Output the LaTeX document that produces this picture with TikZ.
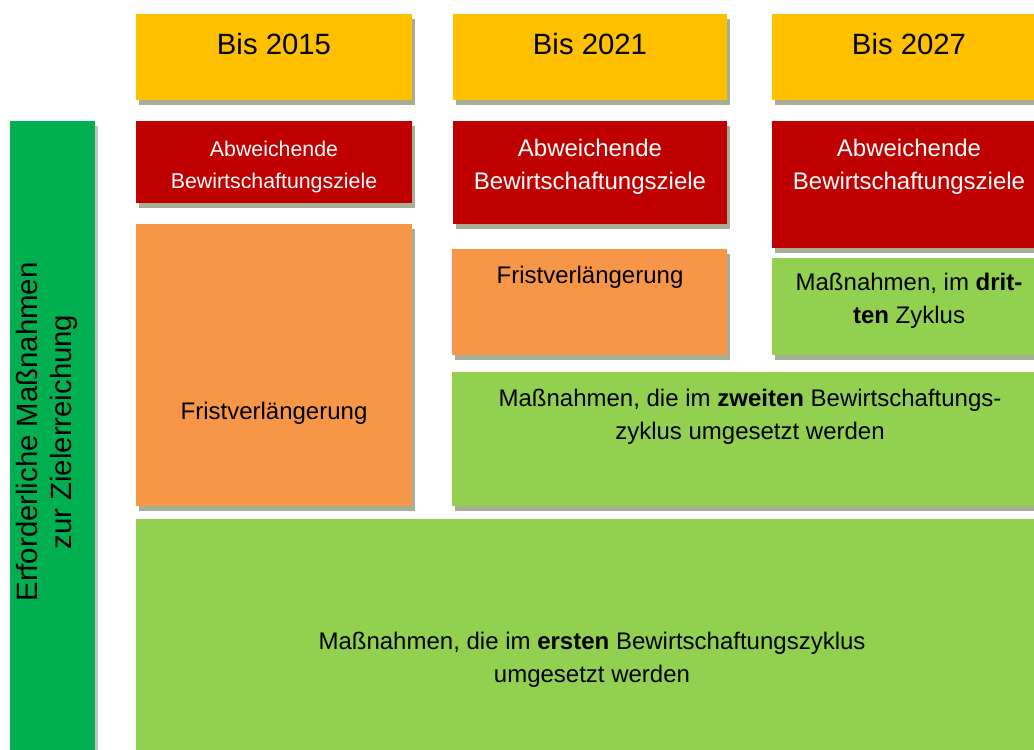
\documentclass[tikz,border=0pt]{standalone}
\usepackage{fontspec}
\setmainfont{Liberation Sans}
\usetikzlibrary{fit,shadows}
\definecolor{PlanYellow}{HTML}{FFC000}
\definecolor{PlanRed}{HTML}{C00000}
\definecolor{PlanOrange}{HTML}{F79646}
\definecolor{PlanLightGreen}{HTML}{92D050}
\definecolor{PlanGreen}{HTML}{00B050}
\definecolor{PlanShadow}{HTML}{A6AE95}
\definecolor{PlanLightShadow}{HTML}{C4C6BC}
\tikzset{
  castshadow/.style={
    drop shadow={shadow xshift=2.6pt,shadow yshift=-4.1pt,fill=#1,opacity=1}
  },
  castshadow/.default=PlanShadow,
  tile/.style={
    inner sep=0pt,
    outer sep=0pt,
    draw=none,
    castshadow
  },
  yeartile/.style={tile,fill=PlanYellow},
  goaltile/.style={tile,fill=PlanRed},
  delaytile/.style={tile,fill=PlanOrange},
  measuretile/.style={tile,fill=PlanLightGreen},
  sidetile/.style={inner sep=0pt,outer sep=0pt,fill=PlanGreen,castshadow=PlanLightShadow},
  tiletext/.style={
    align=center,
    inner sep=0pt,
    font=\fontsize{18}{24.5}\selectfont
  },
  yeartext/.style={tiletext,font=\fontsize{22}{26}\selectfont},
  goaltext/.style={tiletext,text=white},
  smallgoaltext/.style={goaltext,font=\fontsize{16}{24.5}\selectfont}
}

\begin{document}
\begin{tikzpicture}[x=0.75pt,y=0.75pt]
  \clip (0,0) rectangle (1034,-749);
  \fill[white] (0,0) rectangle (1034,-749);

  % side bar
  \node[sidetile,fit={(10,-121) (95,-770)}] (side) {};
  \node[rotate=90,align=center,inner sep=0pt,font=\fontsize{22}{25.5}\selectfont] (sidetext) at (47,-432)
    {Erforderliche Maßnahmen\\zur Zielerreichung};

  % years
  \node[yeartile,fit={(136,-14) (412,-100)}] (y15) {};
  \node[yeartile,fit={(453,-14) (727,-100)}] (y21) {};
  \node[yeartile,fit={(772,-14) (1047,-100)}] (y27) {};
  \node[yeartext] (y15text) at (274,-44) {Bis 2015};
  \node[yeartext] (y21text) at (590,-44) {Bis 2021};
  \node[yeartext] (y27text) at (909,-44) {Bis 2027};

  % deviating goals
  \node[goaltile,fit={(136,-121) (412,-203)}] (g15) {};
  \node[goaltile,fit={(453,-121) (727,-224)}] (g21) {};
  \node[goaltile,fit={(772,-121) (1047,-248)}] (g27) {};
  \node[smallgoaltext] (g15text) at (274,-167) {Abweichende\\Bewirtschaftungsziele};
  \node[goaltext] (g21text) at (590,-167) {Abweichende\\Bewirtschaftungsziele};
  \node[goaltext] (g27text) at (909,-167) {Abweichende\\Bewirtschaftungsziele};

  % extensions
  \node[delaytile,fit={(136,-224) (412,-506)}] (d15) {};
  \node[delaytile,fit={(452,-249) (727,-355)}] (d21) {};
  \node[tiletext] (d15text) at (274,-413) {Fristverlängerung};
  \node[tiletext] (d21text) at (590,-277) {Fristverlängerung};

  % measures
  \node[measuretile,fit={(772,-258) (1047,-355)}] (m27) {};
  \node[measuretile,fit={(452,-372) (1047,-506)}] (m21) {};
  \node[measuretile,fit={(136,-519) (1047,-800)}] (m15) {};
  \node[tiletext] (m27text) at (909,-301) {Maßnahmen, im \textbf{drit-}\\\textbf{ten} Zyklus};
  \node[tiletext] (m21text) at (750,-417)
    {Maßnahmen, die im \textbf{zweiten} Bewirtschaftungs-\\zyklus umgesetzt werden};
  \node[tiletext] (m15text) at (592,-660)
    {Maßnahmen, die im \textbf{ersten} Bewirtschaftungszyklus\\umgesetzt werden};
\end{tikzpicture}
\end{document}
